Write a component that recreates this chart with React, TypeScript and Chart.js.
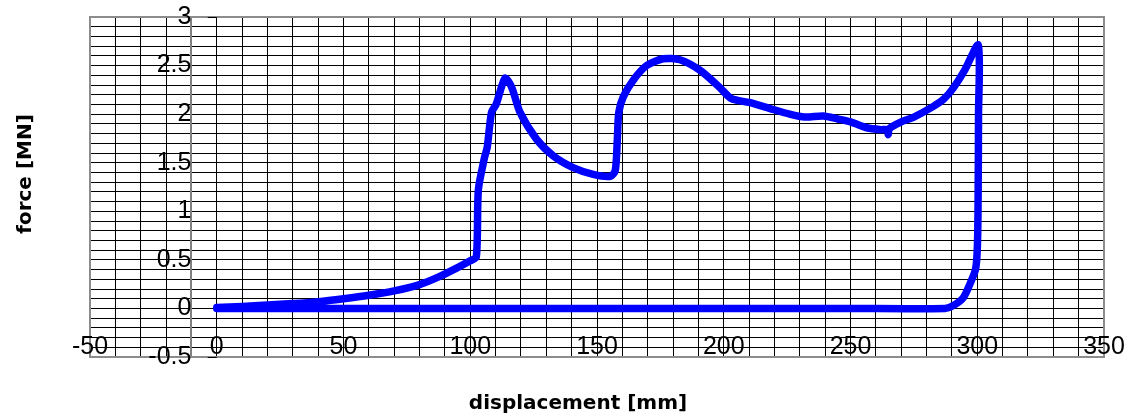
import React, { useEffect, useRef } from "react";
import { Chart, registerables } from "chart.js";

Chart.register(...registerables);

// Force-displacement curve (displacement in mm, force in MN)
const displacement: number[] = [
  0, 10, 20, 30, 40, 50, 60, 70, 80, 88, 95, 100, 102.4,
  103.2, 105.6, 106.7, 108.4, 110.2, 113.7,
  116.3, 119.6, 126.2, 132.8, 140.6, 148.5, 155.3,
  157.2, 158, 158.6, 160.4, 164.3, 169.6, 176.1, 182.7,
  190.7, 198.6, 203, 210, 218, 226, 232, 239.3, 245, 250, 256.4, 262,
  264.6, 264.9, 265.3, 270, 275, 282.7, 287, 290.6, 295, 300.4,
  300.5, 300.3, 300, 299.3, 297.1, 294.5, 290.6, 287.3,
  250, 200, 150, 100, 50, 0,
];
const force: number[] = [
  0.01, 0.02, 0.035, 0.05, 0.07, 0.1, 0.135, 0.18, 0.245, 0.33, 0.42, 0.49, 0.53,
  1.22, 1.55, 1.66, 2.02, 2.1, 2.37,
  2.28, 2.02, 1.74, 1.57, 1.45, 1.38, 1.36,
  1.42, 1.73, 2.02, 2.18, 2.35, 2.5, 2.57, 2.56,
  2.45, 2.27, 2.16, 2.12, 2.06, 2.0, 1.97, 1.98, 1.95, 1.92, 1.86, 1.84,
  1.84, 1.79, 1.85, 1.92, 1.97, 2.08, 2.16, 2.27, 2.45, 2.71,
  2.0, 1.0, 0.6, 0.4, 0.25, 0.11, 0.03, 0.0,
  0.0, 0.0, 0.0, 0.0, 0.0, 0.0,
];

const xTickLabels: number[] = [-50, 0, 50, 100, 150, 200, 250, 300, 350];
const yTickLabels: number[] = [3, 2.5, 2, 1.5, 1, 0.5, 0, -0.5];
const xTitle = "displacement [mm]";
const yTitle = "force [MN]";

const X_MIN = -50;
const X_MAX = 350;
const Y_MIN = -0.5;
const Y_MAX = 3;

const overlayPlugin = {
  id: "overlayPlugin",
  afterDraw(chart: any) {
    const { ctx, chartArea, scales } = chart;
    const xs = scales.x;
    const ys = scales.y;
    ctx.save();

    // grey line near y tick labels
    ctx.strokeStyle = "#808080";
    ctx.lineWidth = 2;
    const gx = Math.round(xs.getPixelForValue(-10));
    ctx.beginPath();
    ctx.moveTo(gx, chartArea.top);
    ctx.lineTo(gx, chartArea.bottom);
    ctx.stroke();

    // frame
    ctx.strokeStyle = "#8c8c8c";
    ctx.lineWidth = 2;
    ctx.strokeRect(
      chartArea.left,
      chartArea.top,
      chartArea.right - chartArea.left,
      chartArea.bottom - chartArea.top
    );

    // small tick marks of the y axis (at x = 0)
    ctx.strokeStyle = "#000";
    ctx.lineWidth = 1;
    const x0 = xs.getPixelForValue(0);
    [Y_MAX, Y_MIN].forEach((v) => {
      const py = Math.round(ys.getPixelForValue(v)) + 0.5;
      ctx.beginPath();
      ctx.moveTo(x0 - 9, py);
      ctx.lineTo(x0, py);
      ctx.stroke();
    });

    // tick labels
    ctx.fillStyle = "#000";
    ctx.font = '25px "Liberation Sans", Arial, sans-serif';
    ctx.textBaseline = "middle";
    ctx.textAlign = "right";
    const yLabelX = xs.getPixelForValue(-10);
    yTickLabels.forEach((v) => {
      ctx.fillText(String(v), yLabelX, ys.getPixelForValue(v));
    });
    ctx.textAlign = "center";
    const xLabelY = ys.getPixelForValue(-0.4);
    xTickLabels.forEach((v) => {
      ctx.fillText(String(v), xs.getPixelForValue(v), xLabelY);
    });

    // axis titles
    ctx.font = 'bold 20px "DejaVu Sans", sans-serif';
    ctx.textAlign = "center";
    ctx.textBaseline = "middle";
    ctx.fillText(xTitle, 578, 404);
    ctx.save();
    ctx.translate(26, 174);
    ctx.rotate(-Math.PI / 2);
    ctx.fillText(yTitle, 0, 0);
    ctx.restore();

    ctx.restore();
  },
};

export default function App() {
  const canvasRef = useRef<HTMLCanvasElement | null>(null);

  useEffect(() => {
    if (!canvasRef.current) return;
    const points = displacement.map((x, i) => ({ x, y: force[i] }));
    const chart = new Chart(canvasRef.current, {
      type: "scatter",
      data: {
        datasets: [
          {
            data: points,
            showLine: true,
            borderColor: "#0000ff",
            backgroundColor: "#0000ff",
            borderWidth: 7.5,
            pointRadius: 0,
            pointHoverRadius: 0,
            tension: 0.25,
            borderJoinStyle: "round",
            borderCapStyle: "round",
            fill: false,
          } as any,
        ],
      },
      options: {
        responsive: false,
        animation: false,
        devicePixelRatio: 1,
        layout: { padding: { left: 90, top: 17, right: 26, bottom: 61 } },
        plugins: {
          legend: { display: false },
          tooltip: { enabled: false },
          title: { display: false },
        },
        scales: {
          x: {
            type: "linear",
            min: X_MIN,
            max: X_MAX,
            ticks: { display: false, stepSize: 10, maxTicksLimit: 1000 },
            grid: { color: "#000", lineWidth: 1, drawTicks: false },
            border: { display: false },
          },
          y: {
            type: "linear",
            min: Y_MIN,
            max: Y_MAX,
            ticks: { display: false, stepSize: 0.1, maxTicksLimit: 1000 },
            grid: { color: "#000", lineWidth: 1, drawTicks: false },
            border: { display: false },
          },
        },
      },
      plugins: [overlayPlugin],
    });
    return () => chart.destroy();
  }, []);

  return (
    <div style={{ position: "absolute", left: 0, top: 0, width: 1130, height: 418, background: "#fff" }}>
      <canvas ref={canvasRef} width={1130} height={418} />
    </div>
  );
}
